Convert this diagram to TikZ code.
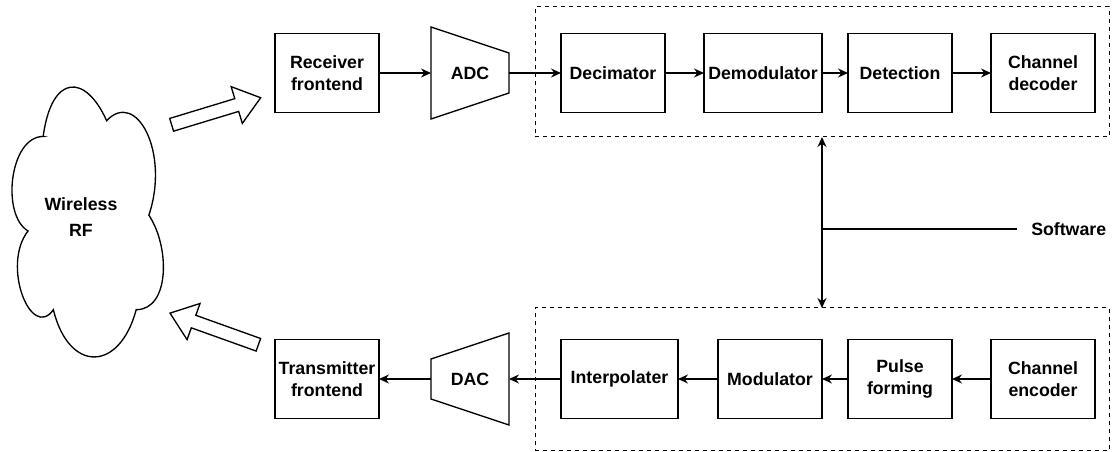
\documentclass[tikz,border=0pt]{standalone}
\usepackage{fontspec}
\setmainfont{Liberation Sans}
\usetikzlibrary{positioning, arrows.meta, calc, shapes.arrows}

\begin{document}
\begin{tikzpicture}[
            x=0.75pt, y=-0.75pt,
            font=\fontsize{13.3}{16.3}\selectfont\bfseries,
            >={Stealth[length=7.5pt, width=6.75pt, inset=2.5pt]},
            block/.style={rectangle, draw, line width=1pt, outer sep=0pt, inner sep=1pt,
                minimum width=78pt, minimum height=59.25pt, align=center},
            wideblock/.style={block, minimum width=88.5pt},
            converter/.style={rectangle, outer sep=0pt, minimum width=58.5pt, minimum height=69pt},
            group/.style={rectangle, draw, dashed, line width=0.75pt, outer sep=0pt,
                minimum width=430.5pt},
            flow/.style={draw, line width=1pt, ->},
            fatarrow/.style={single arrow, draw, line width=1pt, inner sep=4.5pt,
                single arrow head extend=9.4pt, single arrow tip angle=75, anchor=tail}
            ]
        \useasboundingbox (0,0) rectangle (1115,452);

        % Software groups
        \node[group, minimum height=97.5pt] (rxgroup) at (822,72) {};
        \node[group, minimum height=107.25pt] (txgroup) at (822,379.5) {};

        % Receive chain
        \node[block] (rxfront) at (327,73) {Receiver\\frontend};
        \node[converter, right=39pt of rxfront] (adc) {ADC};
        \node[block, right=39pt of adc] (decim) {Decimator};
        \node[wideblock, right=29.25pt of decim] (demod) {Demodulator};
        \node[block, right=19.5pt of demod] (detect) {Detection};
        \node[block, right=29.25pt of detect] (chdec) {Channel\\decoder};

        % Transmit chain
        \node[block] (txfront) at (327,379) {Transmitter\\frontend};
        \node[converter, right=39pt of txfront] (dac) {DAC};
        \node[block, minimum width=87.75pt, right=39pt of dac] (interp) {Interpolater};
        \node[block, right=30pt of interp] (modul) {Modulator};
        \node[block, right=19.5pt of modul] (pulse) {Pulse\\forming};
        \node[block, right=29.25pt of pulse] (chenc) {Channel\\encoder};

        % Converter outlines
        \draw[line width=1pt] (adc.north west) -- ($(adc.east)+(0,-20)$)
            -- ($(adc.east)+(0,20)$) -- (adc.south west) -- cycle;
        \draw[line width=1pt] ($(dac.west)+(0,-20)$) -- (dac.north east)
            -- (dac.south east) -- ($(dac.west)+(0,20)$) -- cycle;

        % Wireless cloud
        \begin{scope}[shift={(1,57.7)}, xscale=169, yscale=315]
            \draw[line width=1pt] (0.25,0.25) .. controls (0.05,0.25) and (0,0.5) .. (0.16,0.55)
                .. controls (0,0.66) and (0.18,0.9) .. (0.31,0.8)
                .. controls (0.4,1) and (0.7,1) .. (0.8,0.8)
                .. controls (1,0.8) and (1,0.6) .. (0.875,0.5)
                .. controls (1,0.3) and (0.8,0.1) .. (0.625,0.2)
                .. controls (0.5,0.05) and (0.3,0.05) .. cycle;
        \end{scope}
        \node[align=center, font=\fontsize{13.3}{20}\selectfont\bfseries] (rf) at (81,217) {Wireless\\RF};

        % Air interface
        \node[fatarrow, minimum height=69.8pt, rotate=16.9] (uplink) at (171,125) {};
        \node[fatarrow, minimum height=70.4pt, rotate=160.3] (downlink) at (259,345) {};

        % Links
        \draw[flow] (rxfront) -- (adc);
        \draw[flow] (adc) -- (decim);
        \draw[flow] (decim) -- (demod);
        \draw[flow] (demod) -- (detect);
        \draw[flow] (detect) -- (chdec);
        \draw[flow] (chenc) -- (pulse);
        \draw[flow] (pulse) -- (modul);
        \draw[flow] (modul) -- (interp);
        \draw[flow] (interp) -- (dac);
        \draw[flow] (dac) -- (txfront);

        % Software control
        \draw[line width=1pt, <->] (rxgroup.south) -- (txgroup.north);
        \coordinate (swjoin) at (822,229);
        \node[anchor=west, inner xsep=10.5pt] (sw) at (1017,229) {Software};
        \draw[line width=1pt] (swjoin) -- (sw.west);
        \end{tikzpicture}
\end{document}
